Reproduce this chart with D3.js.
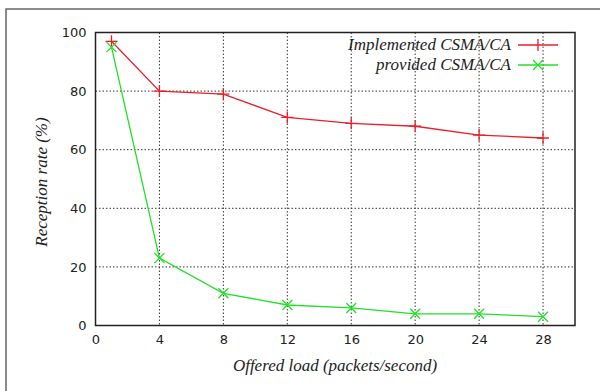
<!DOCTYPE html>
<html><head><meta charset="utf-8">
<script src="https://cdn.jsdelivr.net/npm/d3@7"></script>
<style>body{margin:0;background:#fff}svg{display:block}</style>
</head><body><svg id="c" width="600" height="391"></svg>
<script>
const loads = [1, 4, 8, 12, 16, 20, 24, 28];
const implemented = [97, 80, 79, 71, 69, 68, 65, 64];
const provided = [95, 23, 11, 7, 6, 4, 4, 3];
const xTicks = [0, 4, 8, 12, 16, 20, 24, 28];
const yTicks = [0, 20, 40, 60, 80, 100];
const seriesNames = ["Implemented CSMA/CA", "provided CSMA/CA"];
const seriesColors = ["#e8202a", "#22e02a"];

const svg = d3.select("#c");
const L = 95.5, R = 575, T = 32.5, B = 325.5;
const x = d3.scaleLinear().domain([0, 30]).range([L, R]);
const y = d3.scaleLinear().domain([0, 100]).range([B, T]);

// outer frame
svg.append("rect").attr("x", 6).attr("y", 9).attr("width", 620).attr("height", 420)
  .attr("fill", "none").attr("stroke", "#666").attr("stroke-width", 1.5);

// grid
const g = svg.append("g");
g.selectAll(".vg").data(xTicks.filter(d => d > 0)).enter().append("line")
  .attr("x1", d => x(d)).attr("x2", d => x(d)).attr("y1", T).attr("y2", B)
  .attr("stroke", "#333").attr("stroke-width", 1).attr("stroke-dasharray", "1.5,2");
g.selectAll(".hg").data(yTicks.filter(d => d > 0 && d < 100)).enter().append("line")
  .attr("x1", L).attr("x2", R).attr("y1", d => y(d)).attr("y2", d => y(d))
  .attr("stroke", "#333").attr("stroke-width", 1).attr("stroke-dasharray", "1.5,2");

// axes
const xa = svg.append("g").attr("transform", `translate(0,${B})`)
  .call(d3.axisBottom(x).tickValues(xTicks).tickSize(0).tickPadding(9));
const ya = svg.append("g").attr("transform", `translate(${L},0)`)
  .call(d3.axisLeft(y).tickValues(yTicks).tickSize(0).tickPadding(9));
[xa, ya].forEach(a => {
  a.select(".domain").remove();
  a.selectAll("text").attr("font-family", "DejaVu Sans, sans-serif").attr("font-size", 13).attr("fill", "#222");
});
svg.append("rect").attr("x", L).attr("y", T).attr("width", R - L).attr("height", B - T)
  .attr("fill", "none").attr("stroke", "#222").attr("stroke-width", 1.5);

// titles
svg.append("text").attr("x", 335).attr("y", 371).attr("text-anchor", "middle")
  .attr("font-family", "Liberation Serif, serif").attr("font-style", "italic").attr("font-size", 17)
  .attr("fill", "#222").text("Offered load (packets/second)");
svg.append("text").attr("transform", "translate(47,182) rotate(-90)").attr("text-anchor", "middle")
  .attr("font-family", "Liberation Serif, serif").attr("font-style", "italic").attr("font-size", 17)
  .attr("fill", "#222").text("Reception rate (%)");

// series
const all = [implemented, provided];
const line = d3.line().x((d, i) => x(loads[i])).y(d => y(d));
all.forEach((vals, s) => {
  const col = seriesColors[s];
  svg.append("path").datum(vals).attr("d", line).attr("fill", "none").attr("stroke", col).attr("stroke-width", 1.3);
  const m = svg.append("g");
  vals.forEach((v, i) => {
    const cx = x(loads[i]), cy = y(v);
    if (s === 0) {
      m.append("path").attr("d", `M${cx-6},${cy}H${cx+6}M${cx},${cy-6}V${cy+6}`).attr("stroke", col).attr("stroke-width", 1.3);
    } else {
      m.append("path").attr("d", `M${cx-5},${cy-5}L${cx+5},${cy+5}M${cx-5},${cy+5}L${cx+5},${cy-5}`).attr("stroke", col).attr("stroke-width", 1.3);
    }
  });
});

// legend
seriesNames.forEach((name, s) => {
  const ly = 45 + s * 20;
  svg.append("text").attr("x", 511).attr("y", ly + 5).attr("text-anchor", "end")
    .attr("font-family", "Liberation Serif, serif").attr("font-style", "italic").attr("font-size", 17)
    .attr("fill", "#222").text(name);
  const col = seriesColors[s];
  svg.append("line").attr("x1", 518).attr("x2", 558).attr("y1", ly).attr("y2", ly).attr("stroke", col).attr("stroke-width", 1.3);
  const cx = 538;
  if (s === 0) {
    svg.append("path").attr("d", `M${cx},${ly-6}V${ly+6}`).attr("stroke", col).attr("stroke-width", 1.3);
  } else {
    svg.append("path").attr("d", `M${cx-5},${ly-5}L${cx+5},${ly+5}M${cx-5},${ly+5}L${cx+5},${ly-5}`).attr("stroke", col).attr("stroke-width", 1.3);
  }
});
</script></body></html>
